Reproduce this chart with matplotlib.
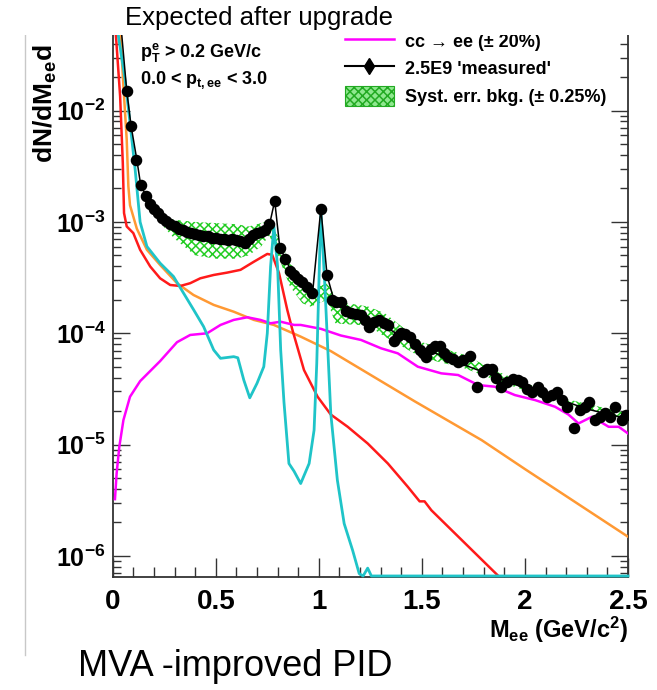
import numpy as np
import matplotlib
matplotlib.use('Agg')
import matplotlib.pyplot as plt
from matplotlib.lines import Line2D
from matplotlib.patches import Patch, Rectangle
from matplotlib.ticker import LogLocator, FixedLocator, NullFormatter, FuncFormatter

plt.rcParams['font.family'] = ['Liberation Sans', 'DejaVu Sans']
plt.rcParams['mathtext.fontset'] = 'custom'
plt.rcParams['mathtext.rm'] = 'Liberation Sans:bold'
plt.rcParams['mathtext.it'] = 'Liberation Sans:bold'
plt.rcParams['mathtext.bf'] = 'Liberation Sans:bold'
plt.rcParams['hatch.linewidth'] = 1.1

# Params (y given as log10)
x_range = (0.0, 2.5)
ylog_range = (-6.187, -1.32)

# 2.5E9 'measured' points
meas_x = [0.068, 0.089, 0.113, 0.136, 0.160, 0.180, 0.200, 0.220, 0.240, 0.260,
          0.280, 0.300, 0.320, 0.340, 0.360, 0.380, 0.400, 0.420, 0.440, 0.460,
          0.480, 0.500, 0.520, 0.540, 0.560, 0.580, 0.600, 0.620, 0.640, 0.660,
          0.680, 0.700, 0.720, 0.740, 0.760, 0.786, 0.812, 0.836, 0.860, 0.880,
          0.900, 0.920, 0.945, 0.968, 1.010, 1.038, 1.065, 1.085, 1.107, 1.130,
          1.156, 1.180, 1.205, 1.225, 1.245, 1.270, 1.294, 1.315, 1.334, 1.367,
          1.385, 1.400, 1.420, 1.440, 1.465, 1.489, 1.505, 1.521, 1.545, 1.562,
          1.586, 1.605, 1.627, 1.650, 1.676, 1.700, 1.732, 1.765, 1.797, 1.818,
          1.838, 1.862, 1.886, 1.915, 1.944, 1.965, 1.984, 2.010, 2.033, 2.065,
          2.085, 2.106, 2.130, 2.154, 2.180, 2.203, 2.236, 2.268, 2.290, 2.309,
          2.341, 2.365, 2.390, 2.415, 2.438, 2.470, 2.490]
meas_ylog = [-1.82, -2.14, -2.44, -2.67, -2.77, -2.84, -2.88, -2.92, -2.96, -2.99,
             -3.02, -3.04, -3.06, -3.07, -3.09, -3.10, -3.11, -3.12, -3.13, -3.13,
             -3.14, -3.14, -3.15, -3.15, -3.16, -3.15, -3.16, -3.17, -3.19, -3.15,
             -3.12, -3.10, -3.09, -3.07, -3.02, -2.81, -3.23, -3.33, -3.44, -3.48,
             -3.51, -3.54, -3.58, -3.64, -2.88, -3.48, -3.70, -3.72, -3.72, -3.80,
             -3.82, -3.83, -3.84, -3.88, -3.94, -3.90, -3.88, -3.91, -3.93, -4.07,
             -4.02, -4.00, -4.01, -4.03, -4.10, -4.15, -4.18, -4.21, -4.14, -4.11,
             -4.11, -4.18, -4.21, -4.23, -4.26, -4.24, -4.20, -4.48, -4.35, -4.32,
             -4.32, -4.40, -4.48, -4.44, -4.41, -4.42, -4.44, -4.50, -4.53, -4.48,
             -4.53, -4.57, -4.55, -4.53, -4.60, -4.66, -4.85, -4.69, -4.66, -4.62,
             -4.78, -4.75, -4.72, -4.75, -4.66, -4.78, -4.73]

# black sum line
sum_x = [0.044, 0.068, 0.089, 0.117, 0.136, 0.166, 0.200, 0.250, 0.330, 0.400,
         0.500, 0.600, 0.650, 0.700, 0.760, 0.786, 0.810, 0.860, 0.900, 0.970,
         1.010, 1.040, 1.070, 1.150, 1.300, 1.500, 1.700, 1.900, 2.100, 2.300, 2.500]
sum_ylog = [-1.32, -1.82, -2.135, -2.44, -2.67, -2.78, -2.87, -2.97, -3.06, -3.10,
            -3.14, -3.16, -3.18, -3.12, -3.03, -2.81, -3.22, -3.42, -3.51, -3.63,
            -2.88, -3.48, -3.68, -3.81, -3.92, -4.13, -4.28, -4.42, -4.55, -4.68, -4.77]

# syst. err. band (upper / lower edges)
band_x = [0.25, 0.30, 0.40, 0.50, 0.60, 0.66, 0.72, 0.76, 0.81, 0.86, 0.92, 0.96,
          1.04, 1.08, 1.14, 1.24, 1.32, 1.50, 1.70, 1.90, 2.20, 2.50]
band_hi = [-2.95, -2.98, -3.00, -3.01, -3.02, -3.04, -3.01, -2.99, -3.16, -3.37,
           -3.49, -3.61, -3.55, -3.67, -3.73, -3.76, -3.82, -4.08, -4.19, -4.37,
           -4.59, -4.72]
band_lo = [-3.05, -3.15, -3.30, -3.33, -3.33, -3.30, -3.22, -3.12, -3.34, -3.58,
           -3.73, -3.76, -3.70, -3.91, -3.92, -3.93, -4.03, -4.22, -4.31, -4.45,
           -4.64, -4.77]

# cc -> ee (magenta)
cc_x = [0.011, 0.019, 0.032, 0.052, 0.084, 0.133, 0.230, 0.312, 0.376, 0.458,
        0.523, 0.587, 0.653, 0.717, 0.766, 0.815, 0.880, 0.912, 1.010, 1.107,
        1.205, 1.302, 1.383, 1.480, 1.594, 1.676, 1.773, 1.854, 1.951, 2.049,
        2.146, 2.211, 2.260, 2.325, 2.406, 2.455, 2.500]
cc_ylog = [-5.49, -5.26, -5.02, -4.78, -4.57, -4.43, -4.25, -4.08, -4.015, -4.00,
           -3.925, -3.88, -3.856, -3.88, -3.91, -3.896, -3.925, -3.925, -3.96, -4.02,
           -4.06, -4.135, -4.18, -4.30, -4.36, -4.375, -4.465, -4.48, -4.555, -4.60,
           -4.66, -4.73, -4.81, -4.75, -4.84, -4.84, -4.90]

# orange
or_x = [0.036, 0.052, 0.068, 0.076, 0.084, 0.095, 0.117, 0.166, 0.230, 0.312,
        0.392, 0.490, 0.587, 0.685, 0.782, 0.912, 1.058, 1.464, 1.790, 2.000, 2.510]
or_ylog = [-1.25, -1.78, -2.26, -2.68, -2.85, -2.92, -3.06, -3.25, -3.386, -3.55,
           -3.656, -3.745, -3.806, -3.88, -3.925, -4.03, -4.16, -4.61, -4.96, -5.22, -5.84]

# red
red_x = [0.011, 0.036, 0.049, 0.055, 0.068, 0.100, 0.133, 0.182, 0.230, 0.279,
         0.328, 0.376, 0.425, 0.490, 0.555, 0.620, 0.685, 0.750, 0.774, 0.807,
         0.847, 0.872, 0.928, 0.994, 1.058, 1.140, 1.237, 1.335, 1.432, 1.489,
         1.513, 1.546, 1.870]
red_ylog = [-1.20, -1.87, -2.47, -2.92, -3.04, -3.10, -3.25, -3.40, -3.506, -3.566,
            -3.575, -3.55, -3.506, -3.476, -3.455, -3.43, -3.357, -3.287, -3.296, -3.46,
            -3.79, -3.97, -4.33, -4.57, -4.73, -4.84, -4.99, -5.17, -5.38, -5.51,
            -5.51, -5.59, -6.19]

# cyan (values below the frame are drawn on the frame bottom, ROOT style)
cy_x = [0.027, 0.060, 0.084, 0.109, 0.133, 0.166, 0.230, 0.295, 0.344, 0.393,
        0.441, 0.490, 0.523, 0.587, 0.607, 0.636, 0.665, 0.700, 0.733, 0.750,
        0.766, 0.782, 0.800, 0.815, 0.831, 0.855, 0.880, 0.912, 0.953, 0.977,
        0.990, 1.010, 1.030, 1.058, 1.090, 1.123, 1.164, 1.196, 1.215, 1.237,
        1.255, 1.300, 1.800, 2.500]
cy_ylog = [-1.32, -1.72, -2.11, -2.53, -3.00, -3.22, -3.37, -3.49, -3.64, -3.79,
           -3.94, -4.15, -4.225, -4.21, -4.22, -4.42, -4.58, -4.45, -4.30, -4.00,
           -3.40, -3.04, -3.40, -4.15, -4.62, -5.17, -5.24, -5.35, -5.17, -4.87,
           -4.27, -2.89, -3.60, -4.72, -5.32, -5.71, -5.95, -6.16, -6.30, -6.11,
           -6.30, -6.30, -6.30, -6.30]

leg_labels = ['cc \u2192 ee (\u00b1 20%)', "2.5E9 'measured'",
              'Syst. err. bkg. (\u00b1 0.25%)']

#%% Figure
W, H = 657, 690
fig = plt.figure(figsize=(W / 100, H / 100), dpi=100)
x0, x1, yb, yt = 112.7, 628.0, 576.7, 35.0
ax = fig.add_axes([x0 / W, 1 - yb / H, (x1 - x0) / W, (yb - yt) / H])
ax.set_yscale('log')
ax.set_xlim(*x_range)
ylo, yhi = 10 ** ylog_range[0], 10 ** ylog_range[1]
ax.set_ylim(ylo, yhi)

def lin(v, floor=1.02):
    return np.maximum(10 ** np.asarray(v, dtype=float), ylo * floor)

ax.fill_between(band_x, lin(band_lo), lin(band_hi), facecolor='none',
                edgecolor='#22cc22', hatch='xxxx', linewidth=0, zorder=2)
ax.plot(or_x, lin(or_ylog), color='#ff9933', lw=1.8, zorder=3)
ax.plot(red_x, lin(red_ylog), color='#ff1a1a', lw=1.8, zorder=3)
ax.plot(cc_x, lin(cc_ylog), color='#ff00ff', lw=1.8, zorder=3)
ax.plot(cy_x, lin(cy_ylog, floor=1.015), color='#1fc4c8', lw=2.0, zorder=4, clip_on=False)
ax.plot(sum_x, lin(sum_ylog), color='black', lw=1.1, zorder=5)
ax.plot(meas_x, lin(meas_ylog), 'o', color='black', ms=7.3, zorder=6)

# axes style (ROOT like)
for side in ('left', 'right', 'bottom'):
    ax.spines[side].set_linewidth(1.3)
    ax.spines[side].set_color('#333333')
ax.spines['top'].set_visible(False)
ax.xaxis.set_major_locator(FixedLocator([0, 0.5, 1.0, 1.5, 2.0, 2.5]))
ax.xaxis.set_minor_locator(FixedLocator(np.arange(0, 2.51, 0.1)))
ax.yaxis.set_major_locator(LogLocator(base=10, numticks=12))
ax.yaxis.set_minor_locator(LogLocator(base=10, subs=np.arange(2, 10), numticks=12))
ax.yaxis.set_minor_formatter(NullFormatter())

def xfmt(v, pos):
    return f'{v:g}'

def yfmt(v, pos):
    e = int(round(np.log10(v)))
    return r'$\mathbf{10^{%d}}$' % e

ax.xaxis.set_major_formatter(FuncFormatter(xfmt))
ax.yaxis.set_major_formatter(FuncFormatter(yfmt))
ax.tick_params(axis='both', which='both', direction='in', color='#333333', width=1.0)
ax.tick_params(axis='x', which='major', length=14, pad=9, labelsize=20)
ax.tick_params(axis='x', which='minor', length=7)
ax.tick_params(axis='y', which='major', length=12, pad=5, labelsize=18, right=True)
ax.tick_params(axis='y', which='minor', length=6, right=True)
for lab in ax.get_xticklabels():
    lab.set_fontweight('bold')

ax.text(1.0, -0.098, r'M$_{ee}$ (GeV/c$^{2}$)', transform=ax.transAxes,
        ha='right', va='center', fontsize=17, fontweight='bold')
ax.text((45 - x0) / (x1 - x0), (yb - 163) / (yb - yt), r'dN/dM$_{ee}$d',
        transform=ax.transAxes, rotation=90, ha='center', va='bottom',
        fontsize=19, fontweight='bold')

ax.text((140 - x0) / (x1 - x0), (yb - 52) / (yb - yt), r'p$_{T}^{e}$ > 0.2 GeV/c',
        transform=ax.transAxes, ha='left', va='center', fontsize=13, fontweight='bold')
ax.text((140 - x0) / (x1 - x0), (yb - 80) / (yb - yt), r'0.0 < p$_{t,ee}$ < 3.0',
        transform=ax.transAxes, ha='left', va='center', fontsize=13, fontweight='bold')

# legend
handles = [Line2D([], [], color='#ff00ff', lw=1.8),
           Line2D([], [], color='black', lw=1.5, marker='d', ms=8),
           Patch(facecolor='#8fe88f', edgecolor='#22aa22', hatch='xxxx', lw=0.8)]
leg = fig.legend(handles, leg_labels, loc='upper left',
                 bbox_to_anchor=(345 / W, 1 - 31 / H), frameon=False,
                 borderpad=0, borderaxespad=0, handlelength=2.7, handleheight=1.3,
                 handletextpad=0.6, labelspacing=0.42,
                 prop={'size': 13, 'weight': 'bold'})
leg.set_zorder(5)

# crop mask above the plot frame, slide texts
fig.patches.append(Rectangle((0, 1 - yt / H), 1, yt / H, transform=fig.transFigure,
                             facecolor='white', edgecolor='none', zorder=10))
fig.lines.append(Line2D([25 / W, 25 / W], [1 - 35 / H, 1 - 655 / H],
                        transform=fig.transFigure, color='#c8c8c8', lw=1.0, zorder=1))
fig.text(125 / W, 1 - 18 / H, 'Expected after upgrade', ha='left', va='center',
         fontsize=18.5, zorder=11)
fig.text(78 / W, 1 - 666 / H, 'MVA -improved PID', ha='left', va='center',
         fontsize=26, zorder=11)

fig.savefig('out.png', dpi=100)
